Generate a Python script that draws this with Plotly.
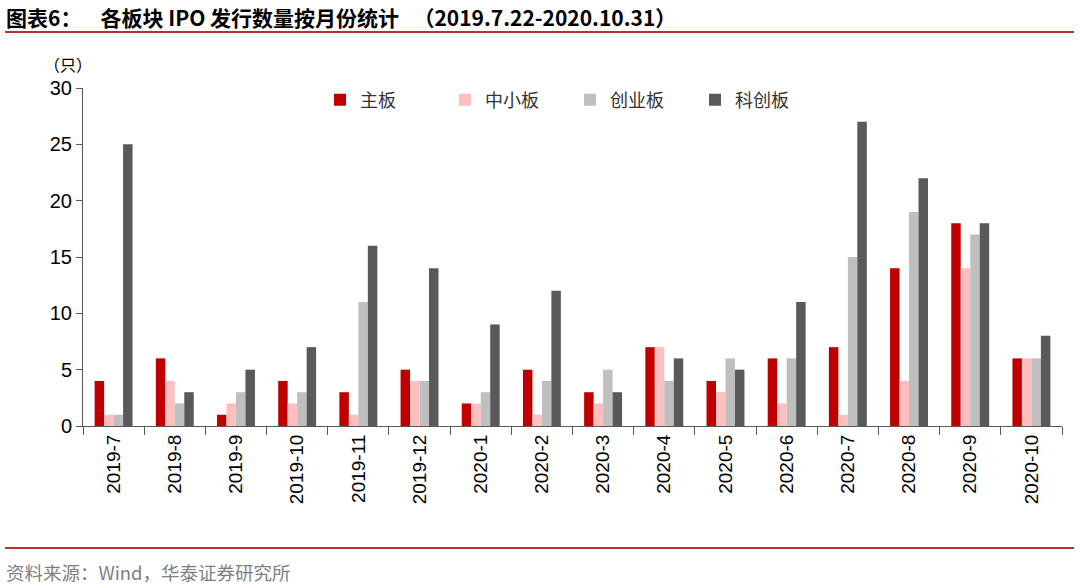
import plotly.graph_objects as go

months = ["2019-7", "2019-8", "2019-9", "2019-10", "2019-11", "2019-12",
          "2020-1", "2020-2", "2020-3", "2020-4", "2020-5", "2020-6",
          "2020-7", "2020-8", "2020-9", "2020-10"]
main_board = [4, 6, 1, 4, 3, 5, 2, 5, 3, 7, 4, 6, 7, 14, 18, 6]
sme_board = [1, 4, 2, 2, 1, 4, 2, 1, 2, 7, 3, 2, 1, 4, 14, 6]
chinext = [1, 2, 3, 3, 11, 4, 3, 4, 5, 4, 6, 6, 15, 19, 17, 6]
star = [25, 3, 5, 7, 16, 14, 9, 12, 3, 6, 5, 11, 27, 22, 18, 8]

series = [("主板", main_board, "#C00000"),
          ("中小板", sme_board, "#FFBFBF"),
          ("创业板", chinext, "#BFBFBF"),
          ("科创板", star, "#595959")]

fig = go.Figure()
for name, vals, col in series:
    fig.add_trace(go.Bar(x=months, y=vals, name=name, marker_color=col,
                         marker_line_width=0))

W, H = 1080, 588
L, R, T, B = 83, 18, 88, 162
pw, ph = W - L - R, H - T - B

def px(x):
    return (x - L) / pw

def py(y):
    return (H - B - y) / ph

font_latin = "Liberation Sans, Arial, Noto Sans CJK SC"
fig.update_layout(
    width=W, height=H,
    margin=dict(l=L, r=R, t=T, b=B, pad=0),
    paper_bgcolor="white", plot_bgcolor="white",
    barmode="group", bargap=0.38, bargroupgap=0,
    font=dict(family=font_latin, color="#000000"),
    showlegend=True,
    legend=dict(orientation="h", x=px(320), y=py(100), xanchor="left", yanchor="middle",
                font=dict(size=18, family="Noto Sans CJK SC", color="#333333"),
                entrywidth=80, entrywidthmode="pixels",
                itemwidth=30, bgcolor="rgba(0,0,0,0)", traceorder="normal"),
    xaxis=dict(type="category", showline=True, linecolor="#595959", linewidth=1,
               ticks="outside", tickson="boundaries", ticklen=8, tickcolor="#595959",
               tickangle=-90, tickfont=dict(size=19, family=font_latin, color="#000000"),
               showgrid=False, zeroline=False),
    yaxis=dict(range=[0, 30], dtick=5, showline=True, linecolor="#595959", linewidth=1,
               ticks="outside", ticklen=6, tickcolor="#595959",
               tickfont=dict(size=20, family=font_latin, color="#000000"),
               showgrid=False, zeroline=False),
    shapes=[
        dict(type="line", xref="paper", yref="paper", x0=px(5), x1=px(1074),
             y0=py(32), y1=py(32), line=dict(color="#B8322A", width=2)),
        dict(type="line", xref="paper", yref="paper", x0=px(5), x1=px(1074),
             y0=py(548), y1=py(548), line=dict(color="#B8322A", width=2)),
    ],
    annotations=[
        dict(text="<b>图表6：    各板块 IPO 发行数量按月份统计   （2019.7.22-2020.10.31）</b>",
             xref="paper", yref="paper", x=px(4), y=py(17), xanchor="left", yanchor="middle",
             showarrow=False, font=dict(size=21, family="Noto Sans CJK SC", color="#000000")),
        dict(text="（只）", xref="paper", yref="paper", x=px(42), y=py(64),
             xanchor="left", yanchor="middle", showarrow=False,
             font=dict(size=16, family="Noto Sans CJK SC", color="#000000")),
        dict(text="资料来源：Wind，华泰证券研究所", xref="paper", yref="paper",
             x=px(4), y=py(572), xanchor="left", yanchor="middle", showarrow=False,
             font=dict(size=18.5, family="Noto Sans CJK SC", color="#7F7F7F")),
    ],
)

fig.write_html("out.html")
